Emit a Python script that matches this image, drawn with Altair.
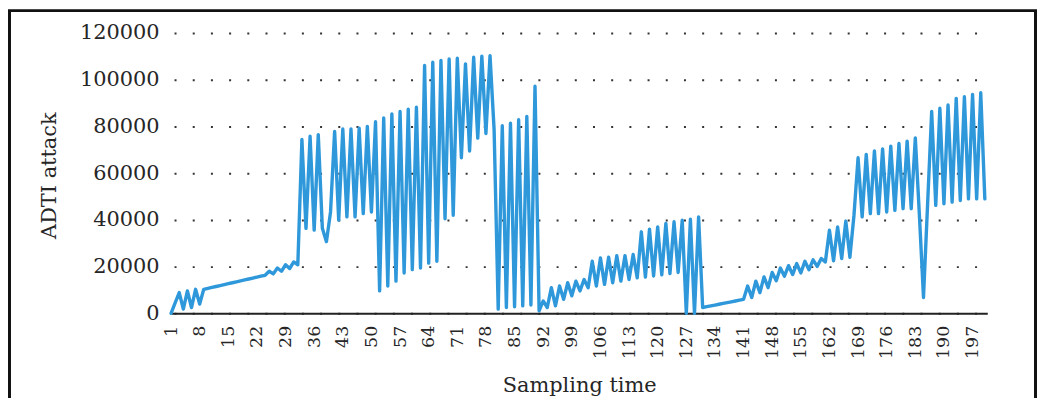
import altair as alt
import pandas as pd

# ---- data (sampling time 1..200) ----
attack_001_050 = [
    0, 4500, 8900, 1800, 9600, 2500, 10300, 4000, 10300, 10700,
    11100, 11500, 11900, 12300, 12700, 13100, 13500, 13900, 14300, 14700,
    15100, 15500, 15900, 16300, 18000, 16900, 19400, 18000, 20800, 19200,
    22000, 20800, 74400, 36400, 75800, 35600, 76500, 36400, 30700, 43400,
    77900, 39900, 78900, 41300, 78900, 41300, 79300, 42700, 80000, 43400,
]
attack_051_100 = [
    82000, 9600, 83600, 11700, 85400, 13800, 86400, 17300, 87400, 18700,
    88200, 19400, 106100, 21500, 107500, 22300, 108200, 40500, 108900, 42000,
    109200, 66600, 106800, 69500, 109600, 75000, 110100, 77000, 110300, 78600,
    1800, 80300, 2500, 81400, 2800, 82900, 3200, 84300, 3600, 97200,
    1100, 5300, 2500, 11000, 3200, 11700, 6000, 13100, 7500, 13800,
]
attack_101_150 = [
    9600, 14500, 11000, 22300, 11700, 23700, 12400, 24000, 13100, 24700,
    13800, 24700, 14500, 25200, 15200, 34900, 15500, 36000, 16000, 37000,
    16500, 38500, 17000, 39200, 17500, 39900, 0, 40300, 0, 41300,
    2500, 2850, 3200, 3550, 3900, 4250, 4600, 4950, 5300, 5650,
    6000, 11700, 6800, 13800, 8900, 15600, 11000, 17500, 14000, 19400,
]
attack_151_200 = [
    15900, 20400, 16600, 21300, 17300, 22300, 18700, 22900, 20100, 23500,
    22000, 35600, 22500, 37000, 23500, 39500, 24000, 42000, 66600, 41300,
    68000, 42700, 69500, 42700, 70400, 43400, 71600, 44100, 72700, 44800,
    73700, 44800, 75100, 42000, 6800, 46600, 86400, 46200, 87800, 46900,
    89200, 47600, 92000, 48300, 92700, 49000, 93700, 49000, 94400, 49000,
]
attack = attack_001_050 + attack_051_100 + attack_101_150 + attack_151_200
sampling_time = list(range(1, len(attack) + 1))

x_ticks = [1, 8, 15, 22, 29, 36, 43, 50, 57, 64, 71, 78, 85, 92, 99, 106,
           113, 120, 127, 134, 141, 148, 155, 162, 169, 176, 183, 190, 197]
y_ticks = [0, 20000, 40000, 60000, 80000, 100000, 120000]

df = pd.DataFrame({"t": sampling_time, "v": attack})

FONT = "DejaVu Serif"
TXT = "#262626"

line = alt.Chart(df).mark_line(
    color="#2e98da", strokeWidth=3.4, strokeJoin="round", strokeCap="round"
).encode(
    x=alt.X(
        "t:Q",
        scale=alt.Scale(domain=[1, 200.6], nice=False, zero=False),
        axis=alt.Axis(
            values=x_ticks, title="Sampling time", grid=False, ticks=False,
            domain=True, domainColor="#222222", domainWidth=2,
            labelAngle=270, labelAlign="right", labelBaseline="middle",
            labelFontSize=17.5, labelPadding=12, labelOverlap=False, labelFlush=False,
            titleFontSize=21, titleY=79, titleBaseline="alphabetic",
        ),
    ),
    y=alt.Y(
        "v:Q",
        scale=alt.Scale(domain=[0, 120000], nice=False),
        axis=alt.Axis(
            values=y_ticks, format="d", title="ADTI attack",
            grid=True, gridDash=[2, 16.3], gridDashOffset=15.3,
            gridColor="#333333", gridWidth=2,
            domain=False, ticks=False, labelPadding=12, labelFontSize=21,
            titleFontSize=21, titleAngle=270, titleX=-116, titleY=143,
            titleAlign="center", titleBaseline="alphabetic",
        ),
    ),
)

frame = alt.Chart(pd.DataFrame({"f": [0]})).mark_rect(
    fillOpacity=0, stroke="#111111", strokeWidth=3
).encode(
    x=alt.value(-162.5), x2=alt.value(869.5),
    y=alt.value(-22.5), y2=alt.value(420),
)

chart = alt.layer(frame, line).properties(
    width=821, height=282,
    padding={"left": 164, "top": 24, "right": 50, "bottom": 84},
    autosize=alt.AutoSizeParams(type="none"),
    background="white",
).configure_view(strokeWidth=0).configure_axis(
    labelFont=FONT, titleFont=FONT, labelColor=TXT, titleColor=TXT,
    titleFontWeight="normal",
)

chart.save("out.html", embed_options={"renderer": "svg", "actions": False})
